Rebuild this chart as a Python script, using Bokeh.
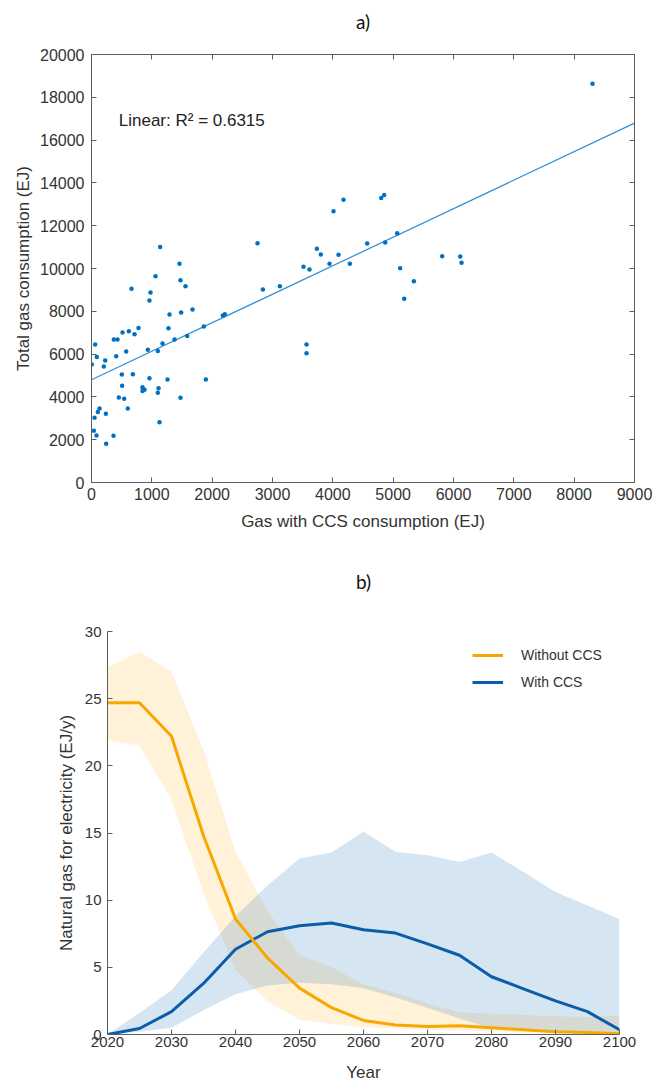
from bokeh.plotting import figure
from bokeh.models import (LinearAxis, Range1d, Label, Legend, LegendItem, FixedTicker,
                          CustomLabelingPolicy)
from bokeh.embed import file_html
from bokeh.resources import INLINE

# ---------------- data: panel a) ----------------
gas_ccs = [1138, 1459, 1061, 1475, 1558, 663, 978, 961, 1293, 1486, 1674, 1276, 779, 713,
           619, 514, 370, 431, 61, 575, 934, 1099, 1177, 1376, 1586, 1862, 88, 227, 409,
           5, 204, 503, 685, 961, 1260, 1895, 508, 845, 879, 845, 1111, 1099, 453, 542,
           1475, 601, 133, 105, 238, 50, 1127, 39, 83, 365, 243, 2752, 4011, 4177, 4802,
           4851, 2840, 3122, 2177, 2210, 3514, 3613, 3735, 3801, 3945, 4094, 4282, 4569,
           4867, 5067, 5116, 5343, 5183, 5813, 3564, 3564, 8304, 6111, 6133]
total_gas = [11000, 10220, 9640, 9455, 9175, 9050, 8880, 8505, 7850, 7945, 8085, 7210, 7225,
             6930, 7070, 7010, 6680, 6680, 6450, 6120, 6200, 6150, 6495, 6680, 6840, 7290,
             5860, 5700, 5900, 5515, 5420, 5050, 5060, 4875, 4815, 4815, 4520, 4455, 4330,
             4270, 4410, 4190, 3970, 3910, 3955, 3460, 3460, 3300, 3210, 3020, 2820, 2415,
             2195, 2180, 1805, 11185, 12680, 13210, 13300, 13440, 9020, 9175, 7805, 7865,
             10080, 9955, 10920, 10655, 10220, 10640, 10220, 11170, 11215, 11650, 10015,
             9410, 8585, 10575, 6450, 6045, 18630, 10560, 10265]
fit_intercept = 4800.0
fit_slope = 1.3325
fit_x = [0, 9000]
r2_text = "Linear: R\u00b2 = 0.6315"
a_xticks = [0, 1000, 2000, 3000, 4000, 5000, 6000, 7000, 8000, 9000]
a_yticks = [0, 2000, 4000, 6000, 8000, 10000, 12000, 14000, 16000, 18000, 20000]

# ---------------- data: panel b) ----------------
years = [2020, 2025, 2030, 2035, 2040, 2045, 2050, 2055, 2060, 2065, 2070, 2075, 2080,
         2085, 2090, 2095, 2100]
no_ccs_median = [24.7, 24.7, 22.2, 14.8, 8.6, 5.7, 3.45, 2.0, 1.05, 0.7, 0.6, 0.65, 0.5,
                 0.35, 0.2, 0.15, 0.05]
no_ccs_upper = [27.3, 28.5, 27.0, 21.2, 13.6, 9.2, 5.9, 5.0, 3.75, 3.1, 2.3, 1.65, 1.55,
                1.45, 1.35, 1.3, 1.4]
no_ccs_lower = [21.9, 21.5, 17.5, 10.5, 4.8, 2.5, 1.1, 0.8, 0.55, 0.45, 0.35, 0.3, 0.25,
                0.15, 0.1, 0.05, 0.0]
ccs_median = [0.0, 0.45, 1.7, 3.8, 6.35, 7.65, 8.1, 8.3, 7.8, 7.55, 6.75, 5.9, 4.3, 3.4,
              2.5, 1.7, 0.35]
ccs_upper = [0.0, 1.6, 3.3, 6.1, 8.8, 11.1, 13.1, 13.55, 15.1, 13.6, 13.35, 12.85, 13.55,
             12.1, 10.6, 9.6, 8.6]
ccs_lower = [0.0, 0.2, 0.5, 1.8, 3.0, 3.65, 3.85, 3.75, 3.45, 2.75, 2.0, 1.2, 0.45, 0.3,
             0.2, 0.15, 0.05]
b_xticks = [2020, 2030, 2040, 2050, 2060, 2070, 2080, 2090, 2100]
b_yticks = [0, 5, 10, 15, 20, 25, 30]

FONT = "Liberation Sans"
AX_COLOR = "#5e5e5e"
TXT_COLOR = "#333333"


def style_axis(ax, label_size, tick_len=5):
    ax.axis_line_color = AX_COLOR
    ax.major_tick_line_color = AX_COLOR
    ax.major_tick_in = tick_len
    ax.major_tick_out = 0
    ax.minor_tick_line_color = None
    ax.major_label_text_font = FONT
    ax.major_label_text_font_size = label_size
    ax.major_label_text_color = TXT_COLOR
    ax.axis_label_text_font = FONT
    ax.axis_label_text_font_size = "17px"
    ax.axis_label_text_font_style = "normal"
    ax.axis_label_text_color = TXT_COLOR


def no_label_policy():
    return CustomLabelingPolicy(code="""
for (const i of indices) { indices.unset(i) }
return indices
""")


def bare_axis(ticks):
    ax = LinearAxis(ticker=FixedTicker(ticks=ticks))
    style_axis(ax, "0px")
    ax.major_label_policy = no_label_policy()
    ax.major_label_standoff = 0
    return ax


def title_axis(ax, text, standoff):
    ax.axis_label = text
    ax.axis_label_text_font = "Lato"
    ax.axis_label_text_font_size = "19px"
    ax.axis_label_text_color = "#111111"
    ax.axis_label_standoff = standoff


# ---------------- panel a) ----------------
p1 = figure(width=655, height=550, x_range=Range1d(0, 9000), y_range=Range1d(0, 20000),
            output_backend="svg", toolbar_location=None,
            min_border_left=91, min_border_right=21, min_border_top=54, min_border_bottom=68)
p1.grid.visible = False
p1.outline_line_color = AX_COLOR

p1.xaxis.ticker = FixedTicker(ticks=a_xticks)
p1.yaxis.ticker = FixedTicker(ticks=a_yticks)
p1.xaxis.axis_label = "Gas with CCS consumption (EJ)"
p1.yaxis.axis_label = "Total gas consumption (EJ)"
style_axis(p1.xaxis[0], "16px")
style_axis(p1.yaxis[0], "16px")
p1.xaxis.major_label_standoff = 5
p1.yaxis.major_label_standoff = 7
p1.xaxis.axis_label_standoff = 9
p1.yaxis.axis_label_standoff = 4

top_ax = bare_axis(a_xticks)
title_axis(top_ax, "a)", 22)
right_ax = bare_axis(a_yticks)
p1.add_layout(top_ax, "above")
p1.add_layout(right_ax, "right")

p1.line(x=fit_x, y=[fit_intercept + fit_slope * v for v in fit_x],
        line_color="#2e8fd6", line_width=1.2)
p1.scatter(x=gas_ccs, y=total_gas, size=4.5, color="#0070c0", line_width=0)
p1.add_layout(Label(x=452, y=16900, text=r2_text, text_baseline="alphabetic",
                    text_font=FONT, text_font_size="17px", text_color="#222222"))

# ---------------- panel b) ----------------
p2 = figure(width=655, height=534, x_range=Range1d(2020, 2100), y_range=Range1d(0, 30),
            output_backend="svg", toolbar_location=None,
            min_border_left=107, min_border_right=36, min_border_top=81, min_border_bottom=49)
p2.grid.visible = False
p2.outline_line_color = None

p2.xaxis.ticker = FixedTicker(ticks=b_xticks)
p2.yaxis.ticker = FixedTicker(ticks=b_yticks)
p2.xaxis.axis_label = "Year"
p2.yaxis.axis_label = "Natural gas for electricity (EJ/y)"
style_axis(p2.xaxis[0], "15px")
style_axis(p2.yaxis[0], "15px")
p2.xaxis.major_label_standoff = 2
p2.yaxis.major_label_standoff = 6
p2.xaxis.axis_label_standoff = 13
p2.yaxis.axis_label_standoff = 6

b_title_ax = bare_axis(b_xticks)
b_title_ax.axis_line_color = None
b_title_ax.major_tick_line_color = None
title_axis(b_title_ax, "b)", 39)
p2.add_layout(b_title_ax, "above")

p2.varea(x=years, y1=no_ccs_lower, y2=no_ccs_upper, fill_color="#ffa500", fill_alpha=0.15)
p2.varea(x=years, y1=ccs_lower, y2=ccs_upper, fill_color="#0060b0", fill_alpha=0.16)
r_ccs = p2.line(x=years, y=ccs_median, line_color="#0b5daa", line_width=3)
r_no = p2.line(x=years, y=no_ccs_median, line_color="#f7a800", line_width=3)

legend = Legend(items=[LegendItem(label="Without CCS", renderers=[r_no]),
                       LegendItem(label="With CCS", renderers=[r_ccs])],
                location=(365, 342), orientation="vertical")
legend.border_line_color = None
legend.background_fill_alpha = 0
legend.padding = 0
legend.margin = 0
legend.spacing = 7
legend.glyph_width = 31
legend.glyph_height = 20
legend.label_height = 20
legend.label_standoff = 18
legend.label_text_font = FONT
legend.label_text_font_size = "14px"
legend.label_text_color = TXT_COLOR
p2.add_layout(legend, "center")

open("out.html", "w").write(file_html([p1, p2], INLINE))
